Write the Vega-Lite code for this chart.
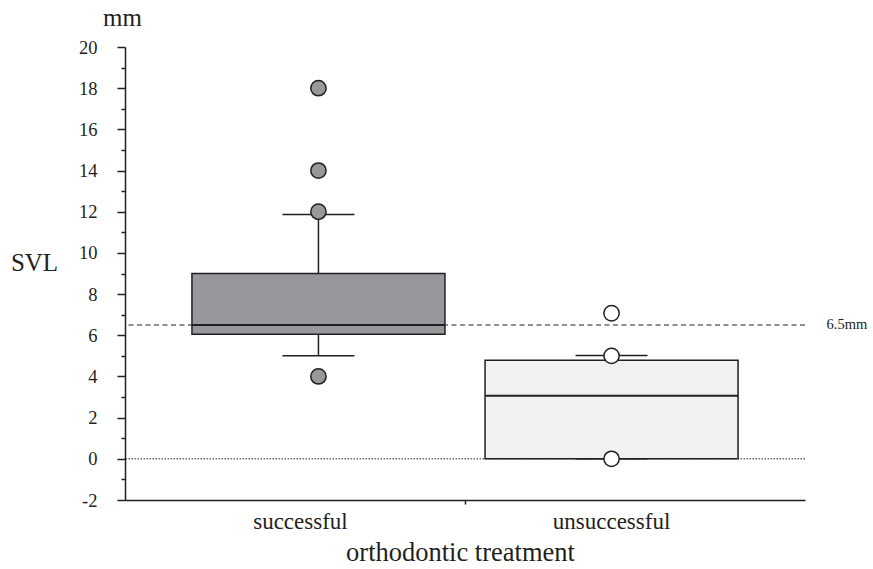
{
  "$schema": "https://vega.github.io/schema/vega-lite/v6.json",
  "width": 680,
  "height": 453,
  "autosize": {"type": "none"},
  "padding": {"left": 125, "top": 47, "right": 68, "bottom": 69},
  "background": "white",
  "config": {
    "view": {"stroke": null},
    "font": "Liberation Serif",
    "axis": {"grid": false, "domainColor": "#231f20", "domainWidth": 1.5, "tickColor": "#231f20", "tickWidth": 1.5, "labelColor": "#231f20", "titleColor": "#231f20", "labelFont": "Liberation Serif", "titleFont": "Liberation Serif", "titleFontWeight": "normal"}
  },
  "title": {"text": "mm", "anchor": "start", "frame": "group", "dx": -22, "offset": 7, "fontSize": 25, "font": "Liberation Serif", "fontWeight": "normal", "color": "#231f20"},
  "datasets": {
    "boxes": [
      {"group": "successful", "lower": 5.0, "q1": 6.05, "median": 6.5, "q3": 9.0, "upper": 11.86},
      {"group": "unsuccessful", "lower": 0.0, "q1": 0.0, "median": 3.06, "q3": 4.79, "upper": 5.02}
    ],
    "outliers": [
      {"group": "successful", "value": 18},
      {"group": "successful", "value": 14},
      {"group": "successful", "value": 12},
      {"group": "successful", "value": 4},
      {"group": "unsuccessful", "value": 7.07},
      {"group": "unsuccessful", "value": 5.0},
      {"group": "unsuccessful", "value": 0}
    ],
    "refs": [
      {"name": "zero", "level": 0},
      {"name": "threshold", "level": 6.5}
    ]
  },
  "resolve": {"axis": {"y": "independent"}},
  "layer": [
    {
      "data": {"name": "refs"},
      "transform": [{"filter": "datum.name == 'zero'"}],
      "mark": {"type": "rule", "strokeDash": [1.5, 1.5], "color": "#231f20", "strokeWidth": 1},
      "encoding": {"y": {"field": "level", "type": "quantitative", "scale": {"domain": [-2, 20], "nice": false, "zero": false}, "axis": null}}
    },
    {
      "data": {"name": "refs"},
      "transform": [{"filter": "datum.name == 'threshold'"}],
      "mark": {"type": "rule", "strokeDash": [5, 3.5], "color": "#231f20", "strokeWidth": 1.2},
      "encoding": {"y": {"field": "level", "type": "quantitative", "scale": {"domain": [-2, 20], "nice": false, "zero": false},
        "axis": {"orient": "right", "values": [6.5], "labelExpr": "'6.5mm'", "domain": false, "ticks": false, "labelPadding": 21, "labelFontSize": 14.5, "labelFont": "Liberation Serif", "title": null}}}
    },
    {
      "data": {"name": "boxes"},
      "mark": {"type": "rule", "color": "#231f20", "strokeWidth": 1.5},
      "encoding": {
        "x": {"field": "group", "type": "nominal", "scale": {"type": "band", "domain": ["successful", "unsuccessful"], "paddingInner": 0, "paddingOuter": 0.16},
          "axis": {"title": "orthodontic treatment", "titleFontSize": 26.5, "titlePadding": 6, "titleX": 335, "labelFontSize": 23, "labelFont": "Liberation Serif", "labelAngle": 0, "labelPadding": 6, "bandPosition": 1, "tickSize": 4,
            "tickOpacity": {"condition": {"test": "datum.value == 'successful'", "value": 1}, "value": 0},
            "labelOffset": {"condition": {"test": "datum.value == 'successful'", "value": -18}, "value": 0}}},
        "y": {"field": "lower", "type": "quantitative", "scale": {"domain": [-2, 20], "nice": false, "zero": false}, "axis": null},
        "y2": {"field": "upper"}
      }
    },
    {
      "data": {"name": "boxes"},
      "mark": {"type": "bar", "size": 253, "stroke": "#231f20", "strokeWidth": 1.5},
      "encoding": {
        "x": {"field": "group", "type": "nominal", "scale": {"type": "band", "domain": ["successful", "unsuccessful"], "paddingInner": 0, "paddingOuter": 0.16},
          "axis": {"title": "orthodontic treatment", "titleFontSize": 26.5, "titlePadding": 6, "titleX": 335, "labelFontSize": 23, "labelFont": "Liberation Serif", "labelAngle": 0, "labelPadding": 6, "bandPosition": 1, "tickSize": 4,
            "tickOpacity": {"condition": {"test": "datum.value == 'successful'", "value": 1}, "value": 0},
            "labelOffset": {"condition": {"test": "datum.value == 'successful'", "value": -18}, "value": 0}}},
        "y": {"field": "q1", "type": "quantitative", "scale": {"domain": [-2, 20], "nice": false, "zero": false},
          "axis": {"orient": "left", "values": [-2, -1, 0, 1, 2, 3, 4, 5, 6, 7, 8, 9, 10, 11, 12, 13, 14, 15, 16, 17, 18, 19, 20],
            "labelExpr": "datum.value % 2 == 0 ? toString(datum.value) : ''",
            "tickSize": {"condition": {"test": "datum.value % 2 == 0", "value": 8}, "value": 4},
            "labelPadding": 20, "labelFontSize": 18.5, "labelFont": "Liberation Serif",
            "title": "SVL", "titleAngle": 0, "titleFontSize": 25, "titleX": -91, "titleY": 215, "titleAlign": "center", "titleBaseline": "middle"}},
        "y2": {"field": "q3"},
        "fill": {"condition": {"test": "datum.group == 'successful'", "value": "#97989c"}, "value": "#f0f1f3"}
      }
    },
    {
      "data": {"name": "boxes"},
      "mark": {"type": "tick", "size": 253, "thickness": 2, "color": "#231f20", "opacity": 1},
      "encoding": {
        "x": {"field": "group", "type": "nominal"},
        "y": {"field": "median", "type": "quantitative", "axis": null}
      }
    },
    {
      "data": {"name": "boxes"},
      "mark": {"type": "tick", "size": 72, "thickness": 1.5, "color": "#231f20", "opacity": 1},
      "encoding": {
        "x": {"field": "group", "type": "nominal"},
        "y": {"field": "upper", "type": "quantitative", "axis": null}
      }
    },
    {
      "data": {"name": "boxes"},
      "mark": {"type": "tick", "size": 72, "thickness": 1.5, "color": "#231f20", "opacity": 1},
      "encoding": {
        "x": {"field": "group", "type": "nominal"},
        "y": {"field": "lower", "type": "quantitative", "axis": null}
      }
    },
    {
      "data": {"name": "outliers"},
      "mark": {"type": "point", "shape": "circle", "filled": true, "size": 235, "stroke": "#231f20", "strokeWidth": 1.5, "opacity": 1},
      "encoding": {
        "x": {"field": "group", "type": "nominal"},
        "y": {"field": "value", "type": "quantitative", "axis": null},
        "fill": {"condition": {"test": "datum.group == 'successful'", "value": "#97989c"}, "value": "#ffffff"}
      }
    }
  ]
}
